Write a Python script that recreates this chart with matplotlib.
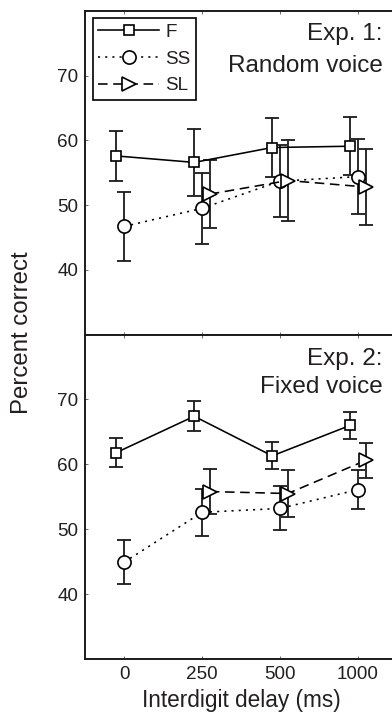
import matplotlib
matplotlib.use("Agg")
import matplotlib.pyplot as plt
from matplotlib.lines import Line2D

plt.rcParams["font.family"] = ["Liberation Sans", "DejaVu Sans"]
TEXT = "#231f20"

# categorical delay positions
delays = ["0", "250", "500", "1000"]
pos = [1, 2, 3, 4]
pos_sl = [2, 3, 4]

# Exp. 1: random voice
e1_f = [57.6, 56.6, 58.9, 59.1]
e1_f_err = [3.8, 5.2, 4.6, 4.5]
e1_ss = [46.7, 49.5, 53.7, 54.4]
e1_ss_err = [5.4, 5.5, 5.6, 5.8]
e1_sl = [51.7, 53.8, 52.8]
e1_sl_err = [5.3, 6.3, 5.8]

# Exp. 2: fixed voice
e2_f = [61.8, 67.4, 61.3, 66.0]
e2_f_err = [2.2, 2.3, 2.1, 2.1]
e2_ss = [44.9, 52.6, 53.2, 56.1]
e2_ss_err = [3.4, 3.6, 3.4, 3.0]
e2_sl = [55.8, 55.5, 60.6]
e2_sl_err = [3.5, 3.6, 2.7]

yticks = [40, 50, 60, 70]

DOT = (0, (1.3, 3.2))
DASH = (0, (6.0, 3.5))

STYLE = {
    "F": dict(ls="-", marker="s", ms=7.5, offset=-0.1),
    "SS": dict(ls=DOT, marker="o", ms=9.5, offset=0.0),
    "SL": dict(ls=DASH, marker=">", ms=10, offset=0.1),
}


def draw(ax, xs, ys, errs, key):
    st = STYLE[key]
    x = [p + st["offset"] for p in xs]
    ax.errorbar(x, ys, yerr=errs, fmt="none", ecolor="#1a1a1a",
                elinewidth=1.3, capsize=5, capthick=1.3, zorder=2)
    ax.plot(x, ys, color="black", linestyle=st["ls"], linewidth=1.15,
            marker=st["marker"], markersize=st["ms"], markerfacecolor="white",
            markeredgecolor="black", markeredgewidth=1.2, zorder=3)


fig = plt.figure(figsize=(3.92, 7.15), dpi=100)
left = 85 / 392
width = 312 / 392
ax1 = fig.add_axes([left, (715 - 334.5) / 715, width, 323.5 / 715])
ax2 = fig.add_axes([left, 56 / 715, width, 324.5 / 715])

panels = [
    (ax1, e1_f, e1_f_err, e1_ss, e1_ss_err, e1_sl, e1_sl_err, "Exp. 1:", "Random voice"),
    (ax2, e2_f, e2_f_err, e2_ss, e2_ss_err, e2_sl, e2_sl_err, "Exp. 2:", "Fixed voice"),
]

for ax, f, fe, ss, sse, sl, sle, t1, t2 in panels:
    draw(ax, pos, f, fe, "F")
    draw(ax, pos, ss, sse, "SS")
    draw(ax, pos_sl, sl, sle, "SL")
    ax.set_xlim(0.5, 4.5)
    ax.set_ylim(30, 80)
    ax.set_xticks(pos)
    ax.set_yticks(yticks)
    ax.tick_params(direction="in", length=2.5, width=0.6, colors="#555555",
                   labelcolor=TEXT, labelsize=13.6, top=True, bottom=True, pad=5)
    for s in ax.spines.values():
        s.set_linewidth(1.4)
        s.set_color("#1a1a1a")
    ax.text(0.955, 0.910 if ax is ax1 else 0.906, t1, transform=ax.transAxes,
            ha="right", va="baseline", fontsize=17.5, color=TEXT)
    ax.text(0.955, 0.812 if ax is ax1 else 0.820, t2, transform=ax.transAxes,
            ha="right", va="baseline", fontsize=17.5, color=TEXT)

ax1.set_xticklabels([])
ax2.set_xticklabels(delays)
ax2.set_xlabel("Interdigit delay (ms)", fontsize=16.3, color=TEXT, labelpad=4)

fig.text(22 / 392, 1 - 333 / 715, "Percent correct", rotation=90, ha="center",
         va="center", fontsize=17.3, color=TEXT)

handles = [
    Line2D([], [], color="black", ls="-", lw=1.15, marker="s", ms=7,
           mfc="white", mec="black", mew=1.2),
    Line2D([], [], color="black", ls=DOT, lw=1.15, marker="o", ms=9.5,
           mfc="white", mec="black", mew=1.2),
    Line2D([], [], color="black", ls=DASH, lw=1.15, marker=">", ms=10,
           mfc="white", mec="black", mew=1.2),
]
leg = ax1.legend(handles, ["F", "SS", "SL"], loc="upper left",
                 bbox_to_anchor=(0.025, 0.978), fontsize=13.6, numpoints=1,
                 handlelength=3.2, handletextpad=0.35, labelspacing=0.5,
                 borderpad=0.3, borderaxespad=0, fancybox=False,
                 framealpha=1, edgecolor="black")
leg.get_frame().set_linewidth(1.2)
for t in leg.get_texts():
    t.set_color(TEXT)

fig.savefig("out.png", dpi=100)
